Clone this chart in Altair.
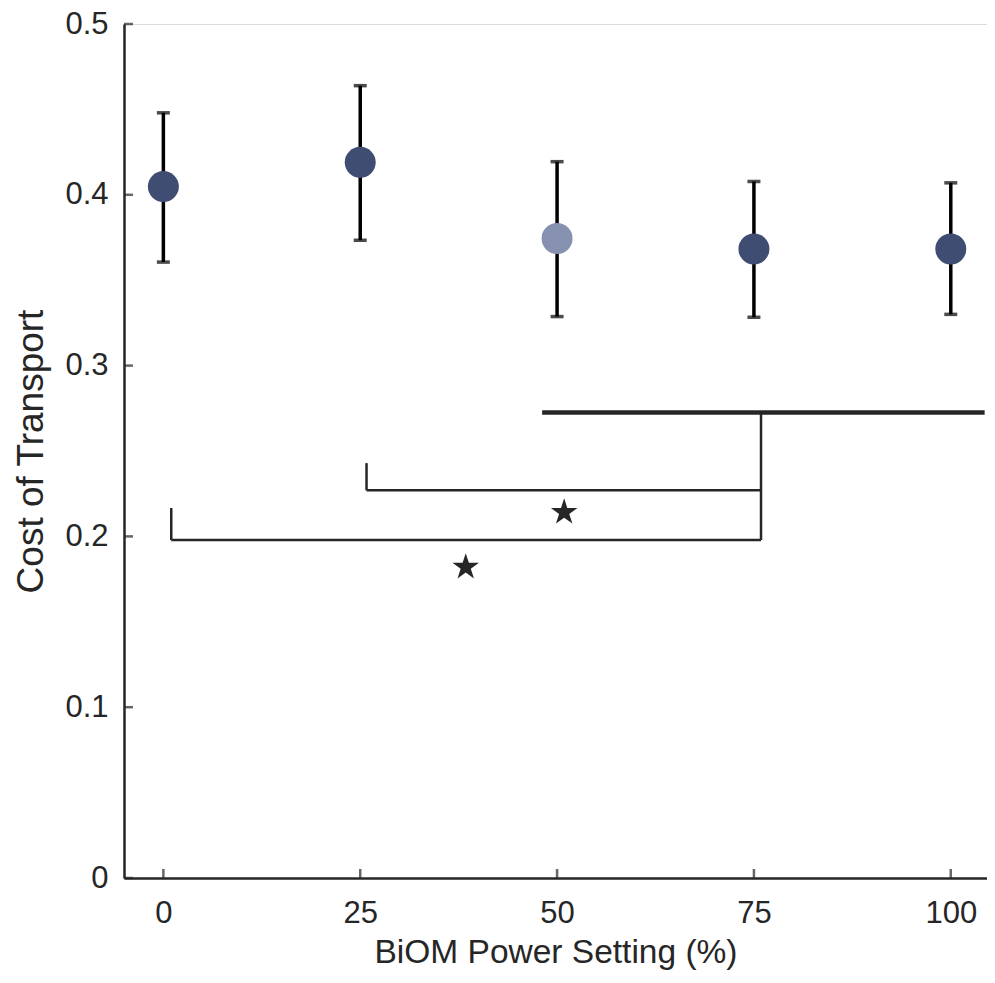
import altair as alt
import pandas as pd

# Data
settings = [0, 25, 50, 75, 100]
cot_mean = [0.4048, 0.4190, 0.3744, 0.3683, 0.3683]
cot_hi = [0.4480, 0.4639, 0.4194, 0.4078, 0.4070]
cot_lo = [0.3606, 0.3734, 0.3287, 0.3283, 0.3300]
highlight = ["no", "no", "yes", "no", "no"]

# Significance brackets (data coordinates)
thick_x = [48.1]
thick_x2 = [104.3]
thick_y = [0.2726]
thick_y2 = [0.2726]

thin_x = [75.9, 25.8, 25.8, 1.0, 1.0]
thin_x2 = [75.9, 25.8, 75.9, 1.0, 75.9]
thin_y = [0.2726, 0.2429, 0.2270, 0.2166, 0.1979]
thin_y2 = [0.1979, 0.2270, 0.2270, 0.1979, 0.1979]

star_x = [50.9, 38.4]
star_y = [0.2141, 0.1820]

x_ticks = [0, 25, 50, 75, 100]
y_ticks = [0, 0.1, 0.2, 0.3, 0.4, 0.5]

INK = "#262626"
FONT = "Liberation Sans"

df = pd.DataFrame({"x": settings, "m": cot_mean, "hi": cot_hi, "lo": cot_lo, "h": highlight})
thick = pd.DataFrame({"x": thick_x, "x2": thick_x2, "y": thick_y, "y2": thick_y2})
thin = pd.DataFrame({"x": thin_x, "x2": thin_x2, "y": thin_y, "y2": thin_y2})
stars = pd.DataFrame({"x": star_x, "y": star_y})
xt = pd.DataFrame({"t": x_ticks})
yt = pd.DataFrame({"t": y_ticks})

xscale = alt.Scale(domain=[-5, 104.6], nice=False, zero=False)
yscale = alt.Scale(domain=[0, 0.5], nice=False)

xaxis = alt.Axis(values=x_ticks, ticks=False, grid=False, domainColor=INK, domainWidth=2.5,
                 labelFont=FONT, labelFontSize=31, labelColor=INK, labelPadding=20,
                 title="BiOM Power Setting (%)", titleFont=FONT, titleFontSize=33.5,
                 titleFontWeight="normal", titleColor=INK, titlePadding=8)
yaxis = alt.Axis(values=y_ticks, ticks=False, grid=False, domainColor=INK, domainWidth=2.5,
                 format=".1~f",
                 labelFont=FONT, labelFontSize=31, labelColor=INK, labelPadding=16,
                 title="Cost of Transport", titleFont=FONT, titleFontSize=37,
                 titleFontWeight="normal", titleColor=INK, titlePadding=14)

base = alt.Chart(df)

err = base.mark_rule(color="black", strokeWidth=3.5).encode(
    x=alt.X("x:Q", scale=xscale, axis=xaxis),
    y=alt.Y("lo:Q", scale=yscale, axis=yaxis),
    y2="hi:Q",
)
cap_hi = base.mark_tick(color="black", orient="horizontal", size=13, thickness=3.5).encode(
    x=alt.X("x:Q", scale=xscale), y=alt.Y("hi:Q", scale=yscale))
cap_lo = base.mark_tick(color="black", orient="horizontal", size=13, thickness=3.5).encode(
    x=alt.X("x:Q", scale=xscale), y=alt.Y("lo:Q", scale=yscale))

pts = base.mark_circle(size=960, opacity=1).encode(
    x=alt.X("x:Q", scale=xscale),
    y=alt.Y("m:Q", scale=yscale),
    color=alt.Color("h:N", scale=alt.Scale(domain=["no", "yes"], range=["#3f4d72", "#8591ae"]), legend=None),
)

thick_l = alt.Chart(thick).mark_rule(color=INK, strokeWidth=4.5).encode(
    x=alt.X("x:Q", scale=xscale), x2="x2:Q", y=alt.Y("y:Q", scale=yscale), y2="y2:Q")
thin_l = alt.Chart(thin).mark_rule(color=INK, strokeWidth=2.5).encode(
    x=alt.X("x:Q", scale=xscale), x2="x2:Q", y=alt.Y("y:Q", scale=yscale), y2="y2:Q")

star_path = ("M0,-1 L0.2245,-0.309 L0.951,-0.309 L0.363,0.118 L0.588,0.809 L0,0.382 "
             "L-0.588,0.809 L-0.363,0.118 L-0.951,-0.309 L-0.2245,-0.309 Z")
star_l = alt.Chart(stars).mark_point(shape=star_path, size=780, filled=True, color=INK, opacity=1).encode(
    x=alt.X("x:Q", scale=xscale), y=alt.Y("y:Q", scale=yscale))

xtick_l = alt.Chart(xt).mark_tick(color=INK, orient="vertical", size=9, thickness=2.5, yOffset=-4.5).encode(
    x=alt.X("t:Q", scale=xscale), y=alt.datum(0, scale=yscale))
ytick_l = alt.Chart(yt).mark_tick(color=INK, orient="horizontal", size=9, thickness=2.5, xOffset=4.5).encode(
    y=alt.Y("t:Q", scale=yscale), x=alt.datum(-5, scale=xscale))

chart = alt.layer(err, cap_hi, cap_lo, pts, thick_l, thin_l, star_l, xtick_l, ytick_l).properties(
    width=863, height=854,
    autosize=alt.AutoSizeParams(type="none"),
    padding={"left": 116, "top": 16, "right": 0, "bottom": 95},
).configure_view(stroke=None).configure(background="white")

chart.save("out.html", embed_options={"renderer": "svg", "actions": False})
